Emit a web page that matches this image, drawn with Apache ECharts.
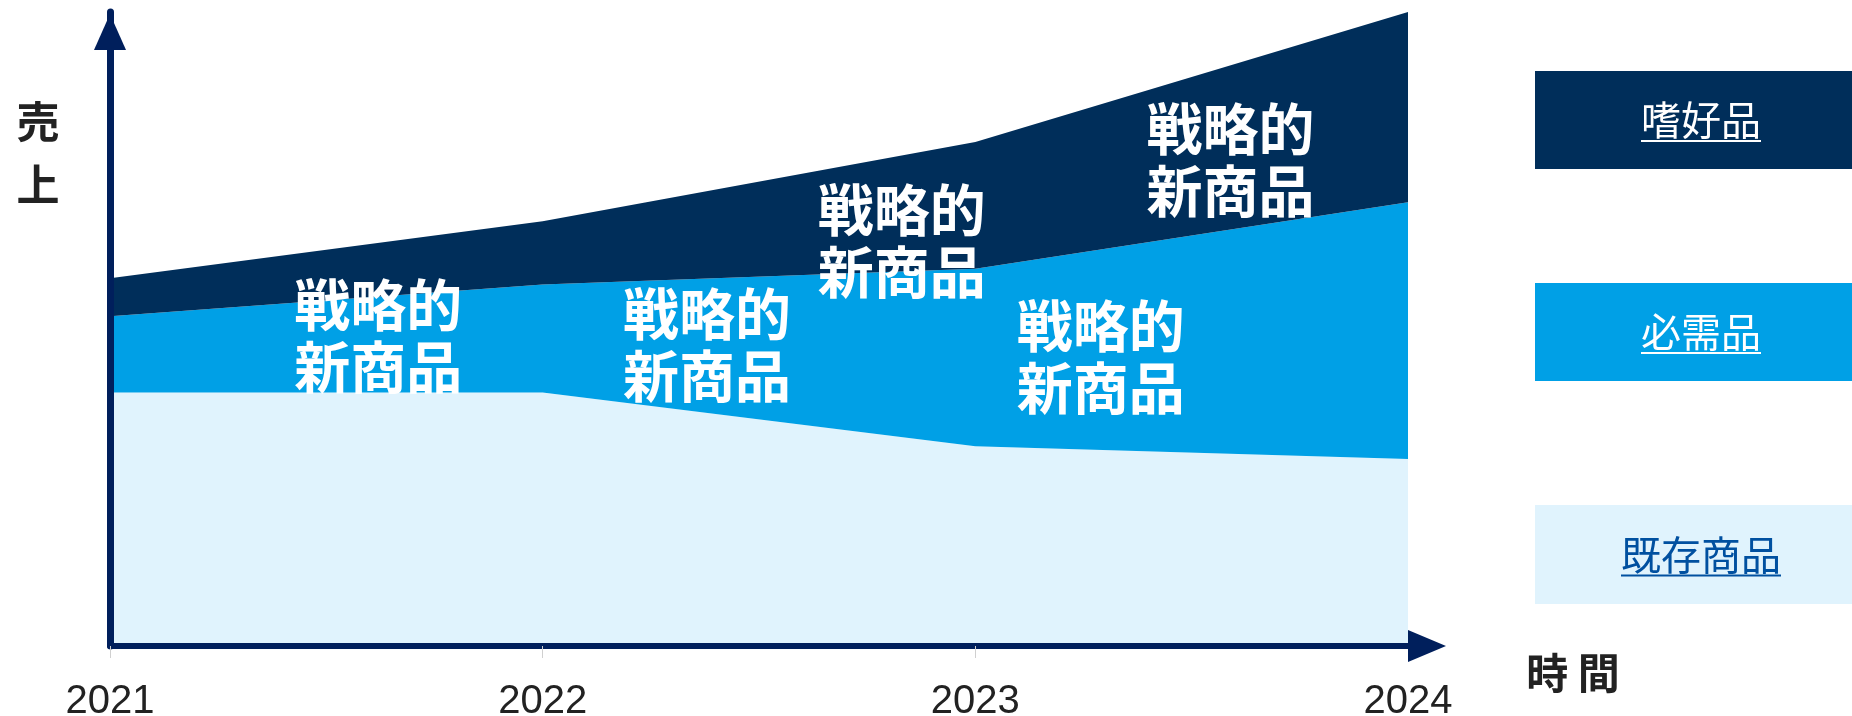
<!DOCTYPE html>
<html>
<head>
<meta charset="utf-8">
<script src="https://cdn.jsdelivr.net/npm/echarts@6/dist/echarts.min.js"></script>
<style>
  html, body { margin: 0; padding: 0; background: #fff; }
  #chart { width: 1852px; height: 716px; }
</style>
</head>
<body>
<div id="chart"></div>
<script>
// data (sales index, stacked)
const years = ["2021", "2022", "2023", "2024"];
const existing = [40, 40, 31.5, 29.5];      // 既存商品
const necessities = [12, 17, 28, 40.5];     // 必需品
const luxuries = [6, 10, 20, 30];           // 嗜好品

const noteText = "戦略的\n新商品";
// [year position (0 = 2021), stacked value] for each note
const notePoints = [[0.62, 49], [1.38, 47.5], [1.83, 64], [2.29, 45.7], [2.59, 76.7]];

const legendNames = ["嗜好品", "必需品", "既存商品"];
const colors = ["#002e5a", "#00a0e6", "#e0f3fd"];
const legendTextColors = ["#ffffff", "#ffffff", "#0050a0"];

const axisColor = "#001f5c";
const cjk = '"Noto Sans CJK JP", sans-serif';

const chart = echarts.init(document.getElementById("chart"));

const legendBoxes = [
  { y: 71, h: 98 },
  { y: 283, h: 98 },
  { y: 505, h: 99 },
];

const graphic = [];
legendNames.forEach((name, i) => {
  const box = legendBoxes[i];
  const cy = box.y + box.h / 2;
  const w = name.length * 40;
  graphic.push({
    type: "rect",
    shape: { x: 1535, y: box.y, width: 317, height: box.h },
    style: { fill: colors[i] },
  });
  graphic.push({
    type: "text",
    x: 1701,
    y: cy,
    style: {
      text: name,
      font: "40px " + cjk,
      fill: legendTextColors[i],
      align: "center",
      verticalAlign: "middle",
    },
  });
  graphic.push({
    type: "rect",
    shape: { x: 1701 - w / 2, y: cy + 20, width: w, height: 2 },
    style: { fill: legendTextColors[i] },
  });
});

graphic.push({
  type: "text",
  x: 38,
  y: 153,
  style: {
    text: "売\n上",
    font: "bold 43px " + cjk,
    fill: "#222",
    align: "center",
    verticalAlign: "middle",
    lineHeight: 63,
  },
});
graphic.push({
  type: "text",
  x: 1573,
  y: 673,
  style: {
    text: "時 間",
    font: "bold 42px " + cjk,
    fill: "#222",
    align: "center",
    verticalAlign: "middle",
  },
});

const option = {
  backgroundColor: "#fff",
  animation: false,
  grid: { left: 110, right: 444, top: 12, bottom: 70, outerBoundsMode: "none" },
  xAxis: [
    {
      type: "category",
      data: years,
      boundaryGap: false,
      z: 10,
      axisLine: {
        lineStyle: { color: axisColor, width: 6 },
        symbol: ["none", "triangle"],
        symbolSize: [32, 38],
        symbolOffset: [0, 19],
      },
      axisTick: { show: true, length: 12, lineStyle: { color: "#d0d0d0", width: 1 } },
      axisLabel: {
        color: "#222",
        fontSize: 40,
        fontFamily: "Liberation Sans, Arial, sans-serif",
        margin: 36,
      },
      splitLine: { show: false },
    },
    {
      type: "value",
      min: 0,
      max: 3,
      show: false,
    },
  ],
  yAxis: {
    type: "value",
    min: 0,
    max: 100,
    z: 10,
    axisLine: {
      show: true,
      lineStyle: { color: axisColor, width: 7 },
      symbol: ["none", "triangle"],
      symbolSize: [32, 36],
      symbolOffset: [0, -20],
    },
    axisTick: { show: false },
    axisLabel: { show: false },
    splitLine: { show: false },
  },
  graphic: graphic,
  series: [
    {
      name: "既存商品",
      type: "line",
      stack: "total",
      data: existing,
      symbol: "none",
      lineStyle: { width: 0 },
      areaStyle: { color: colors[2], opacity: 1 },
    },
    {
      name: "必需品",
      type: "line",
      stack: "total",
      data: necessities,
      symbol: "none",
      lineStyle: { width: 0 },
      areaStyle: { color: colors[1], opacity: 1 },
    },
    {
      name: "嗜好品",
      type: "line",
      stack: "total",
      data: luxuries,
      symbol: "none",
      lineStyle: { width: 0 },
      areaStyle: { color: colors[0], opacity: 1 },
    },
    {
      name: "notes",
      type: "scatter",
      xAxisIndex: 1,
      yAxisIndex: 0,
      data: notePoints,
      symbol: "rect",
      symbolSize: 2,
      itemStyle: { color: "rgba(0,0,0,0)" },
      silent: true,
      z: 5,
      label: {
        show: true,
        position: "inside",
        formatter: noteText,
        color: "#ffffff",
        opacity: 1,
        textBorderWidth: 0,
        textShadowBlur: 0,
        fontSize: 56,
        fontWeight: "bold",
        fontFamily: cjk,
        lineHeight: 62,
      },
    },
  ],
};

chart.setOption(option);
</script>
</body>
</html>
